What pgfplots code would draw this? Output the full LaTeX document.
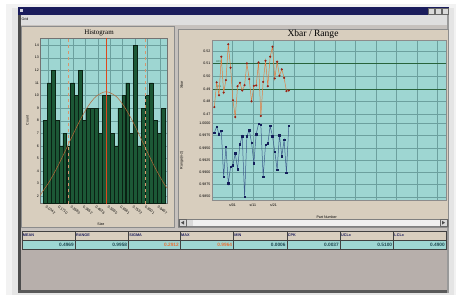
\documentclass[border=0pt]{standalone}
\usepackage{fontspec}
\setmainfont{Liberation Sans}
\newfontfamily\serifft{Liberation Serif}
\usepackage{pgfplots}
\pgfplotsset{compat=1.18}
\pgfplotsset{/pgf/number format/assume math mode=true}
\definecolor{tealbg}{RGB}{158,214,210}
\definecolor{panel}{RGB}{216,206,190}
\definecolor{wingrey}{RGB}{198,193,189}
\definecolor{navy}{RGB}{26,28,92}
\definecolor{barfill}{RGB}{28,88,54}
\definecolor{barside}{RGB}{10,34,20}
\definecolor{gridc}{RGB}{108,160,158}
\definecolor{uclc}{RGB}{40,100,60}
\definecolor{xbarline}{RGB}{228,124,64}
\definecolor{xbarmark}{RGB}{150,34,22}
\definecolor{rline}{RGB}{62,92,140}
\definecolor{rmark}{RGB}{20,30,90}
\definecolor{curvec}{RGB}{184,104,54}
\definecolor{vline}{RGB}{222,72,30}
\definecolor{dashc}{RGB}{214,150,110}
\definecolor{lowgrey}{RGB}{183,175,171}
\definecolor{valc}{RGB}{30,72,80}
\definecolor{orangev}{RGB}{232,112,52}
\newcommand\tk{\fontsize{3.6}{4}\selectfont}
\newcommand\hdfont{\fontsize{3.8}{4}\selectfont\bfseries}
\newcommand\valfont{\fontsize{4.8}{5}\selectfont\bfseries}
\begin{document}
\begin{tikzpicture}
\useasboundingbox (0,0) rectangle (456bp,-295bp);
\begin{scope}[x=1bp,y=-1bp]
  \fill[white] (0,0) rectangle (456,295);
  \fill[black!5] (6,4) rectangle (456,295);
  \fill[black!10] (12,8) rectangle (454,295);
  % window
  \fill[wingrey] (18,7) rectangle (449,293);
  \fill[navy] (18,7) rectangle (449,15);
  \fill[white!80!navy] (20,9) rectangle (23,12);
  \foreach \bx in {428,435,442}{\fill[black!15] (\bx,8.5) rectangle (\bx+6,14); \draw[black!60,line width=0.3] (\bx,8.5) rectangle (\bx+6,14);}
  \fill[black!13] (18,15) rectangle (449,25);
  \node[font=\tk, anchor=west, inner sep=0.5] at (21,19.5) {Grid};
  \fill[black!70] (18,15) rectangle (21,293);
  \fill[black!65] (18,290) rectangle (449,293);
  \fill[black!40] (447,15) rectangle (449,293);
  % histogram panel
  \fill[panel] (21,26) rectangle (174,227);
  \draw[black!45,line width=0.5] (21.5,26) rectangle (174,227);
  \node[font=\serifft\fontsize{7}{8}\selectfont] at (99,32.5) {Histogram};
  % right panel
  \fill[panel] (178,29) rectangle (449,227);
  \draw[black!45,line width=0.5] (178,29) rectangle (448,227);
  \node[font=\serifft\fontsize{9.6}{10}\selectfont] at (313,34.5) {Xbar / Range};
  % scrollbar
  \fill[black!6] (178,219) rectangle (448,226.5);
  \draw[black!50,line width=0.3] (178,219) rectangle (448,226.5);
  \fill[black!15] (179,219.5) rectangle (186,226); \draw[black!60,line width=0.3] (179,219.5) rectangle (186,226);
  \fill[black!70] (181,222.7) -- (184,220.8) -- (184,224.6) -- cycle;
  \fill[black!15] (440,219.5) rectangle (447,226); \draw[black!60,line width=0.3] (440,219.5) rectangle (447,226);
  \fill[black!70] (445,222.7) -- (442,220.8) -- (442,224.6) -- cycle;
  \fill[black!15] (187,219.5) rectangle (193,226);
  % table
  \foreach \xa/\xb/\lab/\val/\col in {21.7/75/MEAN/0.4969/valc, 75/128.3/RANGE/0.9958/valc, 128.3/180/SIGMA/0.2912/orangev, 180/233.3/MAX/0.9964/orangev, 233.3/286.7/MIN/0.0006/valc, 286.7/340/CPK/0.0037/valc, 340/393.3/UCLx/0.5100/valc, 393.3/446/LCLx/0.4900/valc}{
    \fill[panel] (\xa,231) rectangle (\xb,240);
    \fill[tealbg] (\xa,240) rectangle (\xb,249);
    \draw[black!75,line width=0.4] (\xa,231) rectangle (\xb,249);
    \draw[black!75,line width=0.4] (\xa,240) -- (\xb,240);
    \node[font=\hdfont, text=navy, anchor=west, inner sep=1] at (\xa,235.5) {\lab};
    \node[font=\valfont, text=\col, anchor=east, inner sep=1] at (\xb,244.7) {\val};
  }
  \fill[lowgrey] (21,250) rectangle (447,290);
\end{scope}

% Histogram
\begin{axis}[
  at={(40bp,-203bp)}, anchor=south west, scale only axis,
  width=127bp, height=165bp,
  xmin=-0.3, xmax=32, ymin=1.47, ymax=14.56,
  axis background/.style={fill=tealbg},
  axis line style={black!55, line width=0.6pt},
  ytick={2,3,...,14},
  xtick={1.76,4.92,8.07,11.23,14.38,17.54,20.7,23.85,27.0,30.2},
  xticklabels={0.0742,0.1710,0.2680,0.3652,0.4626,0.5595,0.6561,0.7532,0.8501,0.9467},
  x tick label style={rotate=-38, anchor=north west, font=\tk, inner sep=0.5pt, yshift=-2bp},
  y tick label style={font=\tk, inner sep=1pt},
  major tick length=0pt,
  xmajorgrids, ymajorgrids,
  grid style={gridc, line width=0.3pt},
  xlabel={Size}, ylabel={Count},
  xlabel style={font=\tk, at={(axis description cs:0.48,-0.127)}, anchor=center},
  ylabel style={font=\tk, at={(axis description cs:-0.10,0.5)}, anchor=center},
]
\addplot[ybar, bar width=3.9bp, bar shift=0pt, fill=barfill, draw=barside, line width=0.45pt] coordinates {
(1,8)(2,11)(3,12)(4,8)(5,6)(6,7)(7,6)(8,11)(9,10)(10,12)
(11,8)(12,9)(13,9)(14,9)(15,7)(16,10)(17,10)(18,7)(19,6)(20,9)
(21,10)(22,11)(23,7)(24,14)(25,6)(26,9)(27,10)(28,11)(29,8)(30,7)(31,9)};
\addplot[curvec, line width=0.5pt, smooth, no marks] coordinates {
(-0.3,2.05)(0,2.21)(2,3.13)(4,4.25)(6,5.52)(8,6.84)(10,8.11)(12,9.18)(14,9.94)(16.5,10.3)
(19,9.94)(21,9.18)(23,8.11)(25,6.84)(27,5.52)(29,4.25)(31,3.13)(32,2.65)};
\addplot[dashc, dashed, line width=0.6pt, no marks] coordinates {(6.85,0)(6.85,20)};
\addplot[dashc, dashed, line width=0.6pt, no marks] coordinates {(26.4,0)(26.4,20)};
\addplot[vline, line width=0.7pt, no marks] coordinates {(16.7,0)(16.7,20)};
\end{axis}

% Xbar
\begin{axis}[
  at={(212bp,-200bp)}, anchor=south west, scale only axis,
  width=234bp, height=160bp,
  xmin=0, xmax=100.6, ymin=0.40231, ymax=0.52869,
  axis background/.style={fill=tealbg},
  axis line style={black!45, line width=0.8pt},
  ytick={0.47,0.48,0.49,0.50,0.51,0.52},
  yticklabels={0.47,0.48,0.49,0.50,0.51,0.52},
  xtick={8.8,17.6,26.4,35.2,44,52.8,61.6,70.4,79.2,88,96.8},
  xticklabels={s/01,s/11,s/21},
  x tick label style={font=\tk, inner sep=1pt, yshift=-3bp},
  y tick label style={font=\tk, inner sep=1.5pt},
  major tick length=0pt,
  xmajorgrids, ymajorgrids,
  grid style={gridc, line width=0.35pt},
  xlabel={Part Number}, ylabel={Xbar},
  xlabel style={font=\tk, at={(axis description cs:0.49,-0.106)}, anchor=center},
  ylabel style={font=\tk, at={(axis description cs:-0.13,0.72)}, anchor=center},
]
\addplot[uclc, line width=0.6pt, no marks] coordinates {(0,0.51)(100.6,0.51)};
\addplot[uclc, line width=0.6pt, no marks] coordinates {(0,0.49)(100.6,0.49)};
\node[font=\fontsize{2.8}{3}\selectfont, text=uclc, anchor=south west, inner sep=0.5pt] at (axis cs:1.5,0.5103) {UCL};
\node[font=\fontsize{2.8}{3}\selectfont, text=uclc, anchor=south west, inner sep=0.5pt] at (axis cs:1.5,0.4903) {LCL};
\addplot[xbarline, line width=0.5pt, mark=*, mark size=0.8bp, mark options={fill=xbarmark, draw=xbarmark}] coordinates {
(1,0.4757)(2,0.4952)(3,0.4851)(4,0.5155)(5,0.4872)(6,0.4970)(7,0.5253)(8,0.5068)(9,0.4811)(10,0.4679)
(11,0.4922)(12,0.4949)(13,0.4888)(14,0.4930)(15,0.5102)(16,0.4978)(17,0.4803)(18,0.4925)(19,0.4928)(20,0.5110)
(21,0.4687)(22,0.4956)(23,0.5123)(24,0.4922)(25,0.5155)(26,0.5234)(27,0.4983)(28,0.5115)(29,0.5004)(30,0.5055)
(31,0.4988)(32,0.4883)(33,0.4888)};
\end{axis}

% Range
\begin{axis}[
  at={(212bp,-200bp)}, anchor=south west, scale only axis,
  width=234bp, height=160bp,
  xmin=0, xmax=100.6, ymin=0.98433, ymax=1.01702,
  axis line style={black!45, line width=0.8pt},
  ytick={0.985,0.9875,0.99,0.9925,0.995,0.9975,1.0},
  yticklabels={0.9850,0.9875,0.9900,0.9925,0.9950,0.9975,1.0000},
  xtick=\empty,
  y tick label style={font=\tk, inner sep=1.5pt},
  major tick length=0pt,
  ymajorgrids,
  grid style={gridc, line width=0.35pt},
  ylabel={Range(n-2)},
  ylabel style={font=\tk, at={(axis description cs:-0.13,0.25)}, anchor=center},
]
\addplot[rline, line width=0.5pt, mark=square*, mark size=0.75bp, mark options={fill=rmark, draw=rmark}] coordinates {
(1,0.99808)(2,0.99931)(3,0.99781)(4,0.99843)(5,0.98909)(6,0.99522)(7,0.98774)(8,0.99113)(9,0.99148)(10,0.99387)
(11,0.99066)(12,0.99577)(13,0.99740)(14,0.98500)(15,0.99740)(16,0.99863)(17,0.99604)(18,0.99183)(19,0.99781)(20,0.99986)
(21,0.99971)(22,0.98909)(23,0.99557)(24,0.99591)(25,0.99945)(26,0.99740)(27,0.99420)(28,0.99046)(29,0.99761)(30,0.99332)
(31,0.99659)(32,0.98990)(33,0.99945)};
\end{axis}
\end{tikzpicture}
\end{document}
